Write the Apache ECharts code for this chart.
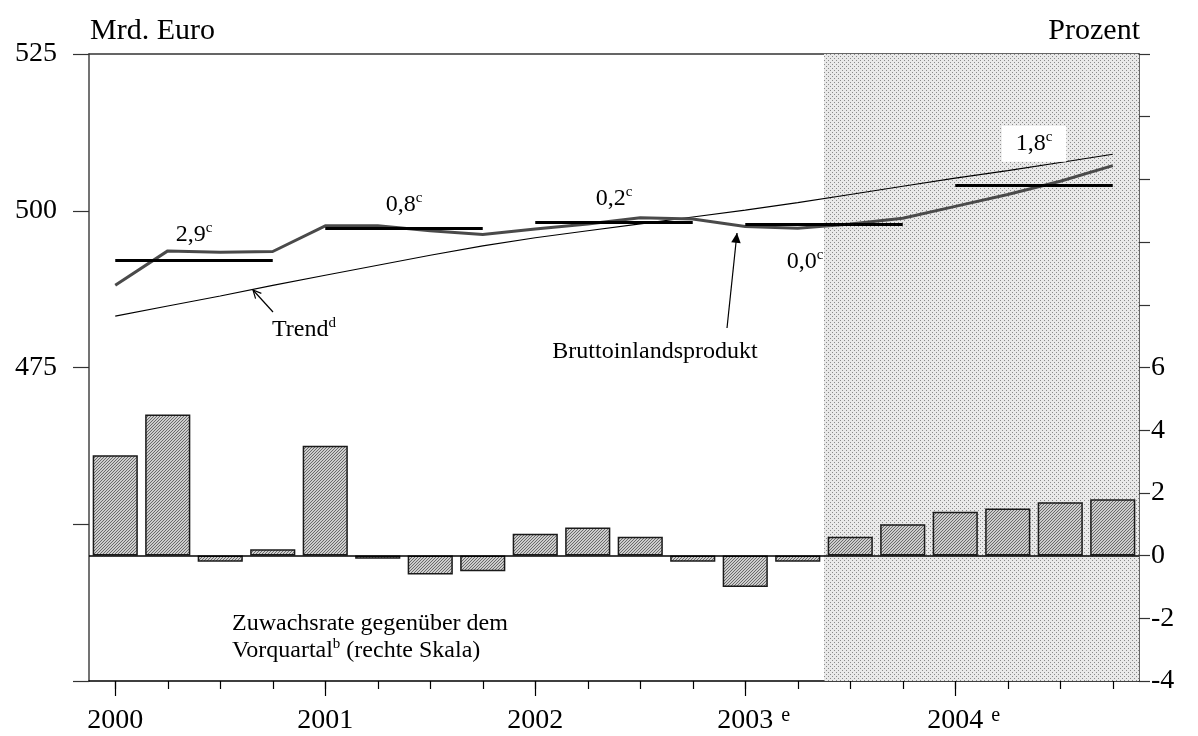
<!DOCTYPE html>
<html><head><meta charset="utf-8">
<script src="https://cdn.jsdelivr.net/npm/echarts@6/dist/echarts.min.js"></script>
<style>html,body{margin:0;padding:0;background:#fff}#c{width:1198px;height:736px}</style>
</head><body><div id="c"></div>
<script>
// ---------- data ----------
const quarters = ['2000Q1','2000Q2','2000Q3','2000Q4','2001Q1','2001Q2','2001Q3','2001Q4',
  '2002Q1','2002Q2','2002Q3','2002Q4','2003Q1','2003Q2','2003Q3','2003Q4',
  '2004Q1','2004Q2','2004Q3','2004Q4'];
const yearLabels = ['2000','2001','2002','2003','2004'];
const yearEstimated = [false,false,false,true,true];
// Zuwachsrate gegenüber dem Vorquartal (Prozent, rechte Skala)
const growthRate = [3.2,4.5,-0.2,0.2,3.5,-0.1,-0.6,-0.5,0.7,0.9,0.6,-0.2,-1.0,-0.2,0.6,1.0,1.4,1.5,1.7,1.8];
// Bruttoinlandsprodukt (Mrd. Euro)
const gdp = [488.1,493.6,493.4,493.5,497.6,497.6,496.8,496.2,497.1,497.9,498.9,498.7,497.5,497.2,497.9,498.8,500.7,502.6,504.7,507.2];
// Trend (Mrd. Euro)
const trend = [483.2,484.8,486.4,488.1,489.7,491.3,492.9,494.4,495.7,496.8,497.9,499.0,500.1,501.3,502.6,503.9,505.2,506.4,507.7,509.0];
// Jahresdurchschnitte und Jahresraten
const annualAvg = [492.1,497.2,498.2,497.9,504.0];
const annualGrowth = ['2,9','0,8','0,2','0,0','1,8'];
// Prognosezeitraum (schattiert)
const forecastFlag = [0,0,0,0,0,0,0,0,0,0,0,0,0,0,1,1,1,1,1,1];

// ---------- styles ----------
const FONT = '"Liberation Serif","Times New Roman",serif';
function makeHatch(){
  const c=document.createElement('canvas'); c.width=3; c.height=3;
  const g=c.getContext('2d'); g.fillStyle='#cdcdcd'; g.fillRect(0,0,3,3);
  g.fillStyle='#6a6a6a'; for(let i=0;i<3;i++){ g.fillRect(i,2-i,1,1); }
  return c;
}
function makeDots(){
  const c=document.createElement('canvas'); c.width=4; c.height=4;
  const g=c.getContext('2d'); g.fillStyle='#e9e9e9'; g.fillRect(0,0,4,4);
  g.fillStyle='#8a8a8a'; g.fillRect(0,0,1,1); g.fillRect(2,2,1,1);
  return c;
}
const supRich = {
  n:{fontFamily:FONT,fontSize:24,color:'#000',lineHeight:28},
  s:{fontFamily:FONT,fontSize:15,color:'#000',lineHeight:16,verticalAlign:'top'}
};
const labelPos = [
  {position:'middle',distance:12},
  {position:'middle',distance:10},
  {position:'middle',distance:9},
  {position:'insideMiddleBottom',distance:24,padding:[0,38,0,0]},
  {position:'middle',distance:24,backgroundColor:'#fff',padding:[4,14,4,14]}
];
const avgMarks = annualAvg.map((v,i)=>[
  {coord:[quarters[i*4],v],
   label:Object.assign({show:true,formatter:'{n|'+annualGrowth[i]+'}{s|c}',rich:supRich,color:'#000'},labelPos[i])},
  {coord:[quarters[i*4+3],v]}
]);

const chart = echarts.init(document.getElementById('c'),null,{renderer:'canvas'});
const option = {
  animation:false,
  backgroundColor:'#fff',
  grid:{left:89,right:59,top:54,bottom:55,containLabel:false,outerBoundsMode:'none'},
  xAxis:[
    {type:'category',data:quarters,position:'bottom',boundaryGap:true,
     axisLine:{show:true,onZero:false,lineStyle:{color:'#000',width:1.5}},
     axisTick:{show:true,alignWithLabel:true,interval:0,length:8,lineStyle:{color:'#000',width:1.2}},
     axisLabel:{show:true,interval:(i)=>i%4===0,margin:25,color:'#000',fontFamily:FONT,fontSize:28,
       formatter:(v,i)=>{const k=Math.floor(i/4); return yearEstimated[k]?'{p|}'+yearLabels[k]+'{e| e}':'{y|'+yearLabels[k]+'}';},
       rich:{y:{fontFamily:FONT,fontSize:28,color:'#000',lineHeight:30},
             p:{width:20,lineHeight:30},
             e:{fontFamily:FONT,fontSize:20,color:'#000',lineHeight:18,verticalAlign:'top',width:20}}},
     splitLine:{show:false}},
    {type:'category',data:quarters,position:'bottom',boundaryGap:true,
     axisLine:{show:false,onZero:false},
     axisTick:{show:true,alignWithLabel:true,interval:(i)=>i%4===0,length:15,lineStyle:{color:'#000',width:1.2}},
     axisLabel:{show:false},splitLine:{show:false}},
    {type:'category',data:quarters,position:'top',boundaryGap:true,
     axisLine:{show:true,onZero:false,lineStyle:{color:'#333',width:1.5}},
     axisTick:{show:false},axisLabel:{show:false},splitLine:{show:false}}
  ],
  yAxis:[
    {type:'value',position:'left',min:425,max:525,interval:25,
     axisLine:{show:true,onZero:false,lineStyle:{color:'#444',width:1.5}},
     axisTick:{show:true,length:16,lineStyle:{color:'#333',width:1.2}},
     axisLabel:{show:true,margin:32,color:'#000',fontFamily:FONT,fontSize:28,formatter:(v)=>v>=475?String(v):''},
     splitLine:{show:false}},
    {type:'value',position:'right',min:-4,max:16,interval:2,
     axisLine:{show:true,onZero:false,lineStyle:{color:'#333',width:1.5}},
     axisTick:{show:true,length:11,lineStyle:{color:'#333',width:1.2}},
     axisLabel:{show:true,margin:12,color:'#000',fontFamily:FONT,fontSize:28,formatter:(v)=>v<=6?String(v):''},
     splitLine:{show:false}},
    {type:'value',min:0,max:1,show:false,splitLine:{show:false}}
  ],
  series:[
    {name:'Prognose',type:'bar',xAxisIndex:2,yAxisIndex:2,barWidth:'100%',silent:true,z:0,
     data:forecastFlag.map(f=>f?1:null),
     itemStyle:{color:{image:makeDots(),repeat:'repeat'}}},
    {name:'Zuwachsrate',type:'bar',xAxisIndex:0,yAxisIndex:1,barWidth:'86%',z:2,
     data:growthRate,
     itemStyle:{color:{image:makeHatch(),repeat:'repeat'},borderColor:'#1a1a1a',borderWidth:1.5},
     markLine:{silent:true,symbol:['none','none'],label:{show:false},
       lineStyle:{color:'#000',width:1.5,type:'solid'},data:[{yAxis:0}]}},
    {name:'Trend',type:'line',xAxisIndex:0,yAxisIndex:0,z:3,data:trend,
     symbol:'none',lineStyle:{color:'#000',width:1.1},
     markLine:{silent:true,symbol:['none','none'],lineStyle:{color:'#000',width:3,type:'solid'},data:avgMarks}},
    {name:'Bruttoinlandsprodukt',type:'line',xAxisIndex:0,yAxisIndex:0,z:4,data:gdp,
     symbol:'none',lineStyle:{color:'#4a4a4a',width:3}}
  ]
};
chart.setOption(option);

// ---------- annotations ----------
function arrow(x1,y1,x2,y2,filled,L){
  const a=Math.atan2(y2-y1,x2-x1), w=Math.PI/7;
  const p1=[x2-L*Math.cos(a-w),y2-L*Math.sin(a-w)], p2=[x2-L*Math.cos(a+w),y2-L*Math.sin(a+w)];
  const els=[{type:'line',shape:{x1:x1,y1:y1,x2:x2,y2:y2},style:{stroke:'#000',lineWidth:1.2}}];
  if(filled) els.push({type:'polygon',shape:{points:[[x2,y2],p1,p2]},style:{fill:'#000'}});
  else els.push({type:'polyline',shape:{points:[p1,[x2,y2],p2]},style:{stroke:'#000',lineWidth:1.2,fill:null}});
  return els;
}
function txt(x,y,text,size,align,rich){
  return {type:'text',x:x,y:y,z:10,style:{text:text,font:size+'px '+FONT,fill:'#000',
    align:align,verticalAlign:'middle',textAlign:align,textVerticalAlign:'middle',rich:rich}};
}
const annRich = {
  a:{fontFamily:FONT,fontSize:24,color:'#000',lineHeight:28},
  b:{fontFamily:FONT,fontSize:15,color:'#000',lineHeight:16,verticalAlign:'top'}
};
chart.setOption({graphic:[
  txt(90,31,'Mrd. Euro',30,'left'),
  txt(1140,31,'Prozent',30,'right'),
  txt(272,330,'{a|Trend}{b|d}',24,'left',annRich),
  txt(655,352,'Bruttoinlandsprodukt',24,'center'),
  txt(232,624,'Zuwachsrate gegenüber dem',24,'left'),
  txt(232,651,'{a|Vorquartal}{b|b}{a| (rechte Skala)}',24,'left',annRich),
  ...arrow(273,312,253,290,false,9),
  ...arrow(727,328,737,233,true,11)
]});
</script></body></html>
